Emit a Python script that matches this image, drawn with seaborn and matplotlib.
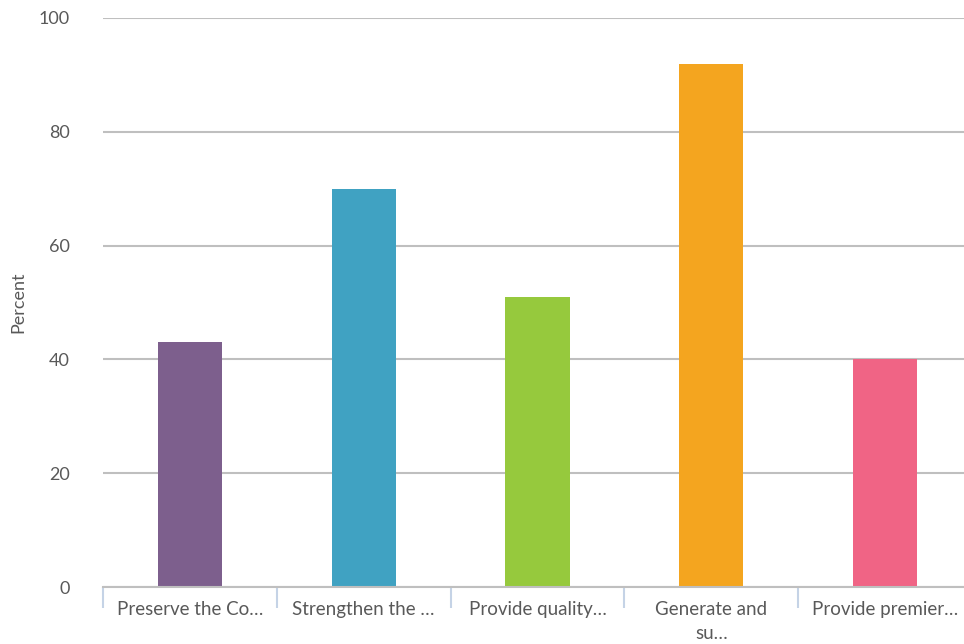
import matplotlib
matplotlib.use("Agg")
import matplotlib.pyplot as plt
from matplotlib.ticker import FixedLocator
import seaborn as sns
import pandas as pd

categories = [
    "Preserve the Co…",
    "Strengthen the …",
    "Provide quality…",
    "Generate and\nsu…",
    "Provide premier…",
]
values = [43, 70, 51, 92, 40]
colors = ["#7D5F8D", "#40A2C2", "#96C93D", "#F4A51F", "#F06485"]
yticks = [0, 20, 40, 60, 80, 100]

sns.set_theme(style="white")
plt.rcParams["font.family"] = ["Lato", "DejaVu Sans"]

df = pd.DataFrame({"category": categories, "percent": values})

fig = plt.figure(figsize=(9.64, 6.44), dpi=100)
left, right, top, bottom = 103, 972, 18, 587
ax = fig.add_axes([left / 964, 1 - bottom / 644, (right - left) / 964, (bottom - top) / 644])

sns.barplot(data=df, x="category", y="percent", hue="category",
            palette=colors, legend=False, width=0.37, saturation=1,
            linewidth=0, ax=ax)

ax.set_ylim(0, 100)
ax.set_xlim(-0.5, len(categories) - 0.5)
ax.set_yticks(yticks)
ax.grid(axis="y", color="#BFBFBF", linewidth=1.5)
ax.set_axisbelow(True)

for side in ["top", "right", "left"]:
    ax.spines[side].set_visible(False)
ax.spines["bottom"].set_color("#BFBFBF")
ax.spines["bottom"].set_linewidth(1.5)

ax.tick_params(axis="y", length=0, pad=24, labelsize=13, labelcolor="#595959")
ax.tick_params(axis="x", which="major", length=0, pad=10, labelsize=13.5,
               labelcolor="#595959")
# category separators below the baseline
ax.xaxis.set_minor_locator(FixedLocator([i - 0.5 for i in range(len(categories) + 1)]))
ax.tick_params(axis="x", which="minor", bottom=True, length=15, width=1.5,
               color="#C5D3E6", direction="out")

for lbl in ax.get_xticklabels():
    lbl.set_linespacing(1.5)

ax.set_xlabel("")
ax.set_ylabel("Percent", fontsize=13, color="#595959")
ax.yaxis.set_label_coords(-(left - 26) / (right - left), 0.5)

fig.savefig("out.png", dpi=100)
